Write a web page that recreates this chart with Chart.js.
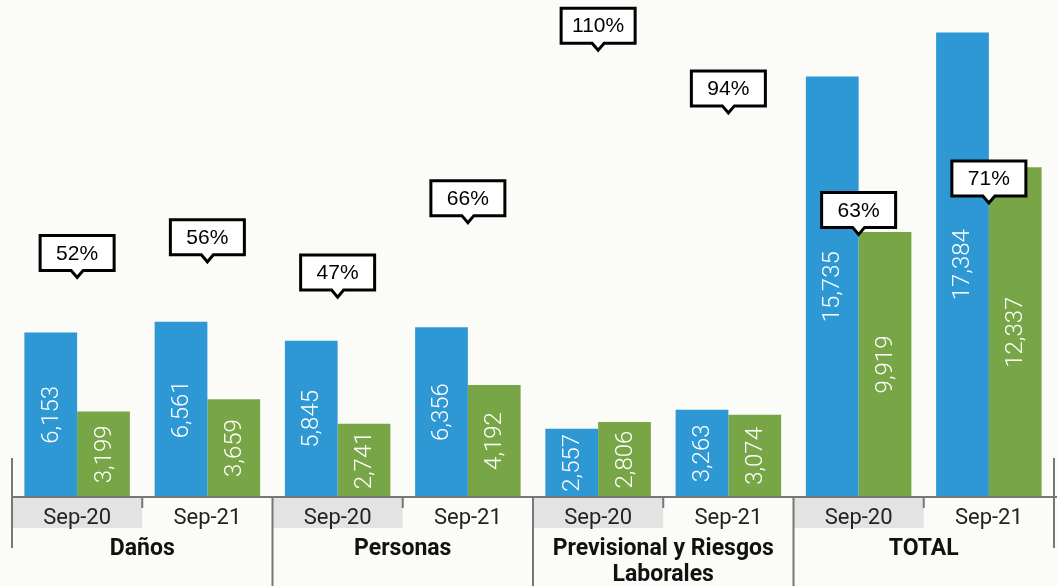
<!DOCTYPE html>
<html>
<head>
<meta charset="utf-8">
<script src="https://cdn.jsdelivr.net/npm/chart.js@4"></script>
<style>
  html, body { margin: 0; padding: 0; background: #fbfbf7; }
  #wrap { width: 1057px; height: 586px; }
</style>
</head>
<body>
<div id="wrap"><canvas id="chart"></canvas></div>
<script>
// --- datos ---
const periods = ['Sep-20', 'Sep-21', 'Sep-20', 'Sep-21', 'Sep-20', 'Sep-21', 'Sep-20', 'Sep-21'];
const groups = [['Daños'], ['Personas'], ['Previsional y Riesgos', 'Laborales'], ['TOTAL']];
const primas = [6153, 6561, 5845, 6356, 2557, 3263, 15735, 17384];
const siniestros = [3199, 3659, 2741, 4192, 2806, 3074, 9919, 12337];
const siniestralidad = [52, 56, 47, 66, 110, 94, 63, 71];

const BLUE = '#2e98d4';
const GREEN = '#78a646';
const FONT = 'Roboto';

// etiquetas blancas giradas dentro de las barras
const barLabels = {
    id: 'barLabels',
    afterDatasetsDraw(chart) {
        const ctx = chart.ctx;
        ctx.save();
        ctx.fillStyle = '#ffffff';
        ctx.font = `300 24px ${FONT}`;
        ctx.textAlign = 'center';
        ctx.textBaseline = 'middle';
        [0, 1].forEach(di => {
            chart.getDatasetMeta(di).data.forEach((bar, i) => {
                const v = chart.data.datasets[di].data[i];
                const txt = v.toLocaleString('en-US');
                const w = ctx.measureText(txt).width;
                let cy = (bar.y + bar.base) / 2;
                cy = Math.min(cy, bar.base - w / 2 - 2);
                ctx.save();
                ctx.translate(bar.x, cy);
                ctx.rotate(-Math.PI / 2);
                ctx.fillText(txt, 0, 1);
                ctx.restore();
            });
        });
        ctx.restore();
    }
};

// cuadros de porcentaje
const callouts = {
    id: 'callouts',
    afterDatasetsDraw(chart) {
        const ctx = chart.ctx;
        const meta = chart.getDatasetMeta(2);
        ctx.save();
        meta.data.forEach((pt, i) => {
            const w = 74, h = 35, tri = 7;
            const x = pt.x, y = pt.y;
            const left = x - w / 2, top = y - tri - h;
            ctx.fillStyle = '#ffffff';
            ctx.strokeStyle = '#000000';
            ctx.lineWidth = 3;
            ctx.beginPath();
            ctx.moveTo(left, top);
            ctx.lineTo(left + w, top);
            ctx.lineTo(left + w, top + h);
            ctx.lineTo(x + 6, top + h);
            ctx.lineTo(x, y);
            ctx.lineTo(x - 6, top + h);
            ctx.lineTo(left, top + h);
            ctx.closePath();
            ctx.fill();
            ctx.stroke();
            ctx.fillStyle = '#000000';
            ctx.font = `21px "Liberation Sans"`;
            ctx.textAlign = 'center';
            ctx.textBaseline = 'middle';
            ctx.fillText(siniestralidad[i] + '%', x, top + h / 2 + 1);
        });
        ctx.restore();
    }
};

// eje inferior: fondo gris, separadores y grupos
const groupAxis = {
    id: 'groupAxis',
    beforeDraw(chart) {
        const ctx = chart.ctx;
        const xs = chart.scales.x;
        const area = chart.chartArea;
        const step = xs.getPixelForValue(1) - xs.getPixelForValue(0);
        ctx.save();
        ctx.fillStyle = '#e3e3e3';
        for (let i = 0; i < periods.length; i += 2) {
            const cx = xs.getPixelForValue(i);
            ctx.fillRect(cx - step / 2, area.bottom, step, 31);
        }
        ctx.restore();
    },
    afterDraw(chart) {
        const ctx = chart.ctx;
        const xs = chart.scales.x;
        const area = chart.chartArea;
        const step = xs.getPixelForValue(1) - xs.getPixelForValue(0);
        const y0 = area.bottom;
        ctx.save();
        ctx.strokeStyle = '#777777';
        ctx.lineWidth = 2;
        ctx.beginPath();
        ctx.moveTo(area.left, y0);
        ctx.lineTo(chart.width, y0);
        // bordes
        const L = xs.getPixelForValue(0) - step / 2;
        const R = xs.getPixelForValue(periods.length - 1) + step / 2;
        ctx.moveTo(L, y0 - 39); ctx.lineTo(L, y0 + 51);
        ctx.moveTo(R, y0 - 39); ctx.lineTo(R, y0 + 51);
        for (let i = 1; i < periods.length; i++) {
            const bx = xs.getPixelForValue(i) - step / 2;
            ctx.moveTo(bx, y0);
            if (i % 2 === 0) ctx.lineTo(bx, chart.height);
            else ctx.lineTo(bx, y0 + 11);
        }
        ctx.stroke();

        ctx.fillStyle = '#111111';
        ctx.font = `bold 23px ${FONT}`;
        ctx.textAlign = 'center';
        ctx.textBaseline = 'middle';
        groups.forEach((lines, g) => {
            const cx = (xs.getPixelForValue(2 * g) + xs.getPixelForValue(2 * g + 1)) / 2;
            lines.forEach((ln, k) => ctx.fillText(ln, cx, y0 + 52 + k * 26));
        });
        ctx.restore();
    }
};

new Chart(document.getElementById('chart'), {
    data: {
        labels: periods,
        datasets: [
            { type: 'bar', label: 'Primas', data: primas, backgroundColor: BLUE, categoryPercentage: 0.81, barPercentage: 1 },
            { type: 'bar', label: 'Siniestros', data: siniestros, backgroundColor: GREEN, categoryPercentage: 0.81, barPercentage: 1 },
            { type: 'line', label: 'Siniestralidad', data: siniestralidad, yAxisID: 'y2', showLine: false, pointRadius: 0 }
        ]
    },
    options: {
        responsive: true,
        maintainAspectRatio: false,
        animation: false,
        layout: { padding: { left: 12, right: 3, top: 0, bottom: 0 } },
        scales: {
            x: {
                grid: { display: false },
                border: { display: false },
                ticks: { color: '#222222', font: { family: FONT, size: 22, lineHeight: 1 }, padding: 2, maxRotation: 0, autoSkip: false },
                afterFit: (scale) => { scale.height = 89; }
            },
            y: { display: false, min: 0, max: 18600 },
            y2: { display: false, min: -4, max: 122.8 }
        },
        plugins: {
            legend: { display: false },
            tooltip: { enabled: false }
        }
    },
    plugins: [groupAxis, barLabels, callouts]
});
</script>
</body>
</html>
